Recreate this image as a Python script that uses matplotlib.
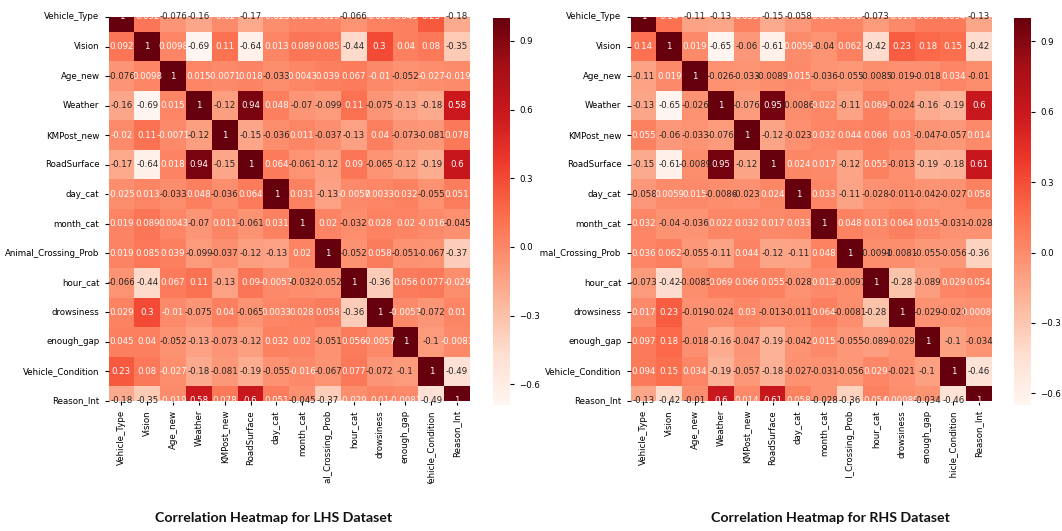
import numpy as np
import matplotlib
matplotlib.use("Agg")
import matplotlib.pyplot as plt
import seaborn as sns
from matplotlib.transforms import Bbox, TransformedBbox
from matplotlib.ticker import MultipleLocator

labels = ["Vehicle_Type", "Vision", "Age_new", "Weather", "KMPost_new", "RoadSurface",
          "day_cat", "month_cat", "Animal_Crossing_Prob", "hour_cat", "drowsiness",
          "enough_gap", "Vehicle_Condition", "Reason_Int"]

# lower triangles (row by row)
lhs_lower = [
    [1],
    [0.092, 1],
    [-0.076, 0.0098, 1],
    [-0.16, -0.69, 0.015, 1],
    [-0.02, 0.11, -0.0071, -0.12, 1],
    [-0.17, -0.64, 0.018, 0.94, -0.15, 1],
    [-0.025, 0.013, -0.033, 0.048, -0.036, 0.064, 1],
    [0.019, 0.089, 0.0043, -0.07, 0.011, -0.061, 0.031, 1],
    [0.019, 0.085, 0.039, -0.099, -0.037, -0.12, -0.13, 0.02, 1],
    [-0.066, -0.44, 0.067, 0.11, -0.13, 0.09, -0.0057, -0.032, -0.052, 1],
    [0.029, 0.3, -0.01, -0.075, 0.04, -0.065, 0.0033, 0.028, 0.058, -0.36, 1],
    [0.045, 0.04, -0.052, -0.13, -0.073, -0.12, 0.032, 0.02, -0.051, 0.056, -0.0057, 1],
    [0.23, 0.08, -0.027, -0.18, -0.081, -0.19, -0.055, -0.016, -0.067, 0.077, -0.072, -0.1, 1],
    [-0.18, -0.35, -0.019, 0.58, 0.078, 0.6, 0.051, -0.045, -0.37, -0.029, 0.01, -0.0081, -0.49, 1],
]

rhs_lower = [
    [1],
    [0.14, 1],
    [-0.11, 0.019, 1],
    [-0.13, -0.65, -0.026, 1],
    [0.055, -0.06, -0.033, -0.076, 1],
    [-0.15, -0.61, -0.0089, 0.95, -0.12, 1],
    [-0.058, 0.0059, 0.015, -0.0086, -0.023, 0.024, 1],
    [0.032, -0.04, -0.036, 0.022, 0.032, 0.017, 0.033, 1],
    [0.036, 0.062, -0.055, -0.11, 0.044, -0.12, -0.11, 0.048, 1],
    [-0.073, -0.42, -0.0085, 0.069, 0.066, 0.055, -0.028, 0.013, -0.0091, 1],
    [0.017, 0.23, -0.019, -0.024, 0.03, -0.013, -0.011, 0.064, -0.0081, -0.28, 1],
    [0.097, 0.18, -0.018, -0.16, -0.047, -0.19, -0.042, 0.015, -0.055, -0.089, -0.029, 1],
    [0.094, 0.15, 0.034, -0.19, -0.057, -0.18, -0.027, -0.031, -0.056, 0.029, -0.021, -0.1, 1],
    [-0.13, -0.42, -0.01, 0.6, 0.014, 0.61, 0.058, -0.028, -0.36, 0.054, 0.00089, -0.034, -0.46, 1],
]

titles = ["Correlation Heatmap for LHS Dataset", "Correlation Heatmap for RHS Dataset"]


def full_matrix(lower):
    n = len(lower)
    m = np.zeros((n, n))
    for i, row in enumerate(lower):
        for j, v in enumerate(row):
            m[i, j] = v
            m[j, i] = v
    return m


W, H = 1062, 531
fig = plt.figure(figsize=(W / 100, H / 100), dpi=100)


def fx(px):
    return px / W


def fy(py):
    return 1 - py / H


panels = [
    dict(data=lhs_lower, ax_x=108.5, cb_x=493, title_x=274, xclip=484, yclip=0),
    dict(data=rhs_lower, ax_x=630.5, cb_x=1014, title_x=830, xclip=479, yclip=540),
]

fs = 6.2
for p, title in zip(panels, titles):
    mat = full_matrix(p["data"])
    ax = fig.add_axes([fx(p["ax_x"]), fy(401), fx(361.5), (401 - 17) / H])
    cax = fig.add_axes([fx(p["cb_x"]), fy(405), fx(17), (405 - 18) / H])
    sns.heatmap(mat, ax=ax, cbar_ax=cax, cmap="Reds", annot=True, fmt=".2g",
                annot_kws={"size": fs}, xticklabels=labels, yticklabels=labels)
    # reproduce the half-cut top/bottom rows of the reference
    ax.set_ylim(13.5, 0.5)
    ax.tick_params(labelsize=fs, length=3, width=0.8)
    ax.set_xticklabels(labels, rotation=90, fontsize=fs)
    ax.set_yticklabels(labels, rotation=0, fontsize=fs)
    cax.yaxis.set_major_locator(MultipleLocator(0.3))
    cax.tick_params(labelsize=fs, length=3, width=0.8)
    xclip = TransformedBbox(Bbox.from_extents(0, 1 - p["xclip"] / H, 1, 1), fig.transFigure)
    for t in ax.get_xticklabels():
        t.set_clip_box(xclip)
        t.set_clip_on(True)
    if p["yclip"]:
        yclip = TransformedBbox(Bbox.from_extents(fx(p["yclip"]), 0, 1, 1), fig.transFigure)
        for t in ax.get_yticklabels():
            t.set_clip_box(yclip)
            t.set_clip_on(True)
    fig.text(fx(p["title_x"]), fy(518), title, ha="center", va="center",
             fontsize=10.2, fontweight="bold", family=["Lato", "DejaVu Sans"], color="#111111")

fig.savefig("out.png", dpi=100)
